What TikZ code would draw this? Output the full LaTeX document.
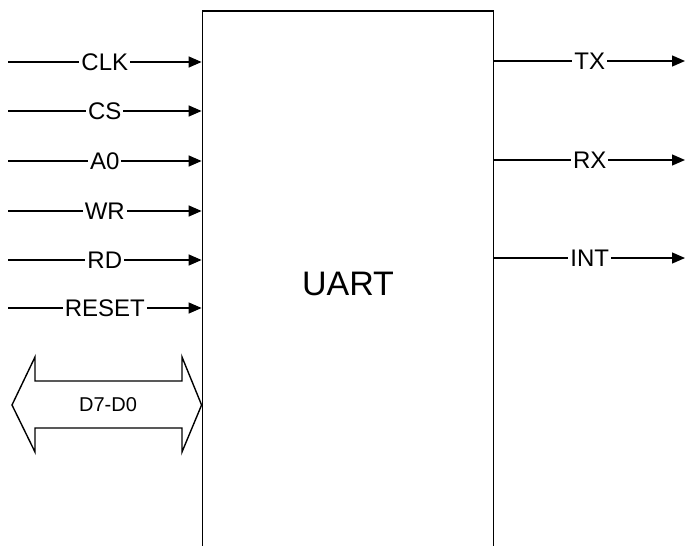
\documentclass[tikz,border=0pt]{standalone}
\usepackage{fontspec}
\setmainfont{Liberation Sans}
\usetikzlibrary{arrows.meta}

\begin{document}
\begin{tikzpicture}[x=1pt,y=-1pt,
    sig/.style={fill=white, inner sep=2pt, font=\fontsize{24}{26}\selectfont},
    wire/.style={line width=1.3pt, -{Triangle[length=13pt,width=11pt]}},
    block/.style={draw, line width=1.8pt, minimum width=291pt, minimum height=546pt, font=\fontsize{34}{36}\selectfont},
    bus/.style={draw, line width=1.4pt, line join=miter}
  ]
    \useasboundingbox (0,0) rectangle (686,546);
    \clip (0,0) rectangle (686,546);

    % the UART block, open at the bottom
    \node[block] (uart) at (348,284) {UART};

    % inputs on the left
    \foreach \y/\txt [count=\i] in {62/CLK,111/CS,161/A0,211/WR,260/RD,308/RESET} {
      \coordinate (in\i) at (8,\y);
      \draw[wire] (in\i) -- node[sig] {\txt} (in\i -| uart.west);
    }

    % outputs on the right
    \foreach \y/\txt [count=\i] in {61/TX,160/RX,258/INT} {
      \coordinate (out\i) at (685,\y);
      \draw[wire] (uart.east |- out\i) -- node[sig] {\txt} (out\i);
    }

    % data bus
    \draw[bus] (12,405) -- (35,357) -- (35,381) -- (182,381) -- (182,357)
      -- (uart.west |- 0,405) -- (182,452) -- (182,428) -- (35,428) -- (35,452) -- cycle;
    \node[font=\fontsize{20}{22}\selectfont] (data) at (108,405) {D7-D0};
\end{tikzpicture}
\end{document}
